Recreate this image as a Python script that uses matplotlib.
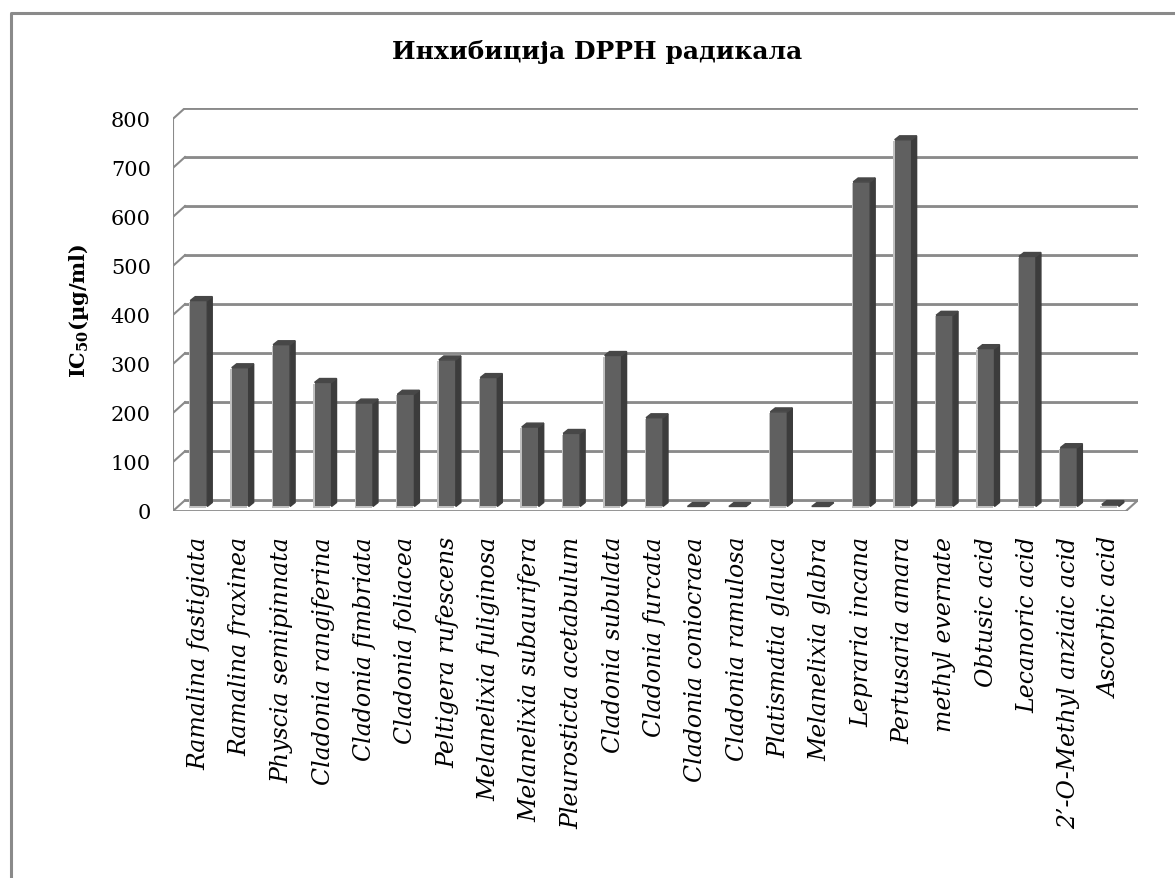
import numpy as np
import matplotlib
matplotlib.use("Agg")
import matplotlib.pyplot as plt
from matplotlib.patches import Polygon
from matplotlib.lines import Line2D

# data
species = ["Ramalina fastigiata", "Ramalina fraxinea", "Physcia semipinnata",
           "Cladonia rangiferina", "Cladonia fimbriata", "Cladonia foliacea",
           "Peltigera rufescens", "Melanelixia fuliginosa", "Melanelixia subaurifera",
           "Pleurosticta acetabulum", "Cladonia subulata", "Cladonia furcata",
           "Cladonia coniocraea", "Cladonia ramulosa", "Platismatia glauca",
           "Melanelixia glabra", "Lepraria incana", "Pertusaria amara",
           "methyl evernate", "Obtusic acid", "Lecanoric acid",
           "2\u2019-O-Methyl anziaic acid", "Ascorbic acid"]
ic50 = [420, 283, 330, 253, 211, 229, 299, 263, 162, 149, 308, 181,
        0, 0, 193, 0, 662, 748, 390, 322, 510, 120, 4]
yticks = [0, 100, 200, 300, 400, 500, 600, 700, 800]

plt.rcParams['font.family'] = 'DejaVu Serif'
plt.rcParams['mathtext.fontset'] = 'custom'
plt.rcParams['mathtext.rm'] = 'DejaVu Serif:bold'
plt.rcParams['mathtext.default'] = 'rm'

W, H = 1175, 879
fig = plt.figure(figsize=(W / 100, H / 100), dpi=100)

# axes box in pixels (front floor left/bottom, back wall right/top)
left, right, bottom, top = 173, 1138, 512, 109
ax = fig.add_axes([left / W, 1 - bottom / H, (right - left) / W, (bottom - top) / H])

n = len(species)
DX, DY = 0.29, 22.0       # depth of the 3d box in data units
f = 0.42                  # bars sit this far into the box
bw = 0.41                 # bar width
ddx, ddy = 0.12, 8.0      # bar's own depth

ax.set_xlim(-0.5, n - 0.5 + DX)
ax.set_ylim(0, 800 + DY)
for s in ax.spines.values():
    s.set_visible(False)

grid_c = '#8a8a8a'
# back wall gridlines + side wall diagonals
for v in yticks:
    ax.plot([-0.5 + DX, n - 0.5 + DX], [v + DY - 1.2, v + DY - 1.2], color='#c8c8c8', lw=1.2, zorder=1)
    ax.plot([-0.5 + DX, n - 0.5 + DX], [v + DY, v + DY], color=grid_c, lw=2.0, zorder=1)
    ax.plot([-0.5, -0.5 + DX], [v, v + DY], color=grid_c, lw=1.5, zorder=1)
ax.plot([-0.5, -0.5], [0, 800], color=grid_c, lw=1.5, zorder=1)
# floor
ax.plot([-0.5, n - 0.5], [0, 0], color=grid_c, lw=2.0, zorder=1)
ax.plot([-0.5, n - 0.5], [-2.5, -2.5], color='#c8c8c8', lw=1.2, zorder=1)
ax.plot([n - 0.5, n - 0.5 + DX], [0, DY], color=grid_c, lw=1.5, zorder=1)

# bars
x = np.arange(n) + f * DX
base = f * DY
ax.bar(x - 0.035, ic50, width=bw, bottom=base - 2.5, color='#c0c0c0', zorder=2)
ax.bar(x, ic50, width=bw, bottom=base, color='#606060', zorder=3)
for xi, v in zip(x, ic50):
    xl, xr, yt = xi - bw / 2, xi + bw / 2, base + v
    side = [(xr, base), (xr + ddx, base + ddy), (xr + ddx, yt + ddy), (xr, yt)]
    cap = [(xl, yt), (xl + ddx, yt + ddy), (xr + ddx, yt + ddy), (xr, yt)]
    ax.add_patch(Polygon(side, closed=True, color='#3c3c3c', zorder=3))
    ax.add_patch(Polygon(cap, closed=True, color='#474747', zorder=3))

ax.set_xticks(x)
ax.set_xticklabels(species, rotation=90, fontstyle='italic', fontsize=17)
ax.set_yticks(yticks)
ax.set_yticklabels([str(t) for t in yticks], fontsize=15)
ax.tick_params(axis='x', length=0, pad=18)
ax.tick_params(axis='y', length=0, pad=16)

ax.set_ylabel('IC$_{50}$(\u00b5g/ml)', fontsize=15, fontweight='bold', labelpad=14)

fig.text(597 / W, 1 - 52 / H, 'Инхибиција DPPH радикала', ha='center', va='center',
         fontsize=18, fontweight='bold')

# chart area border (top and left edges)
fig.add_artist(Line2D([11 / W, 11 / W, 1], [0, 1 - 14 / H, 1 - 14 / H],
                      transform=fig.transFigure, color='#8a8a8a', lw=2.2))

fig.savefig('out.png', dpi=100)
